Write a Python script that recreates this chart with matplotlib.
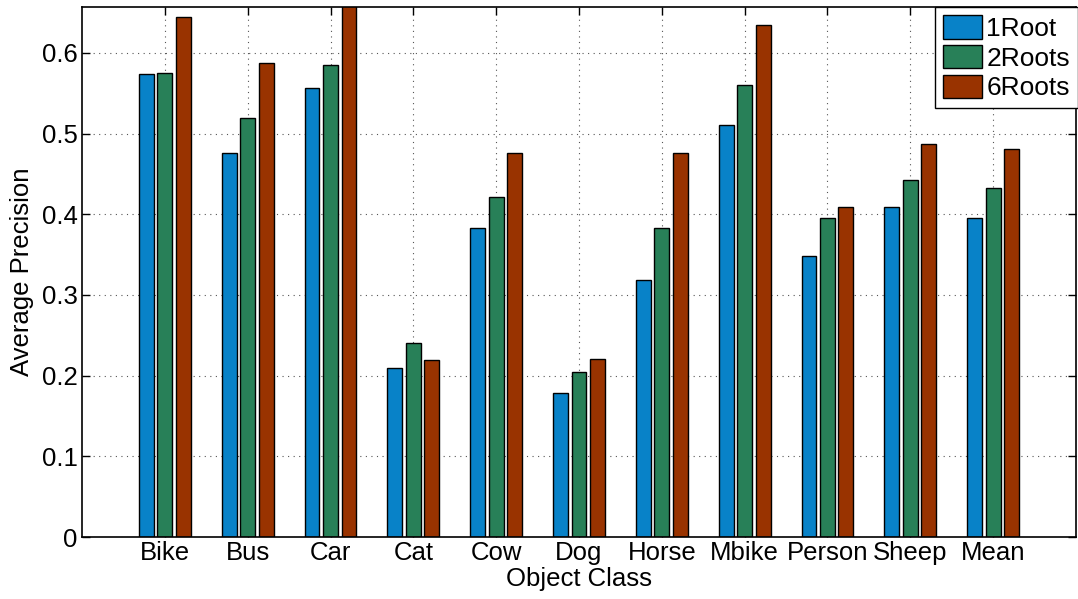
import numpy as np
import matplotlib
matplotlib.use("Agg")
import matplotlib.pyplot as plt

plt.rcParams['font.family'] = ['Liberation Sans', 'DejaVu Sans']

classes = ['Bike', 'Bus', 'Car', 'Cat', 'Cow', 'Dog', 'Horse', 'Mbike', 'Person', 'Sheep', 'Mean']
one_root = [0.574, 0.476, 0.557, 0.209, 0.383, 0.179, 0.319, 0.511, 0.348, 0.409, 0.396]
two_roots = [0.575, 0.519, 0.585, 0.241, 0.421, 0.204, 0.383, 0.560, 0.396, 0.443, 0.433]
six_roots = [0.644, 0.588, 0.690, 0.220, 0.476, 0.221, 0.476, 0.635, 0.409, 0.487, 0.481]
series_names = ['1Root', '2Roots', '6Roots']
colors = ['#0882c8', '#288058', '#993300']

fig = plt.figure(figsize=(10.78, 5.99), dpi=100)
ax = fig.add_axes([0.0761, 0.1035, 0.922, 0.8848])

x = np.arange(1, len(classes) + 1)
w = 0.18
offs = [-0.223, 0, 0.223]
for vals, off, c, name in zip([one_root, two_roots, six_roots], offs, colors, series_names):
    ax.bar(x + off, vals, width=w, color=c, edgecolor='black', linewidth=1.0,
           label=name, zorder=3)

ax.set_xlim(0, 12)
ax.set_ylim(0, 0.657)
ax.set_xticks(x)
ax.set_xticklabels(classes)
ax.set_yticks([0, 0.1, 0.2, 0.3, 0.4, 0.5, 0.6])
ax.set_yticklabels(['0', '0.1', '0.2', '0.3', '0.4', '0.5', '0.6'])
ax.tick_params(direction='in', top=True, right=True, labelsize=18.5, length=6, width=1)
ax.tick_params(axis='y', pad=3)
ax.tick_params(axis='x', pad=3)
ax.grid(True, linestyle=(0, (1, 4)), color='#555555', linewidth=0.8, zorder=0)
for s in ax.spines.values():
    s.set_linewidth(1.2)
    s.set_zorder(4)

ax.set_xlabel('Object Class', fontsize=18.5, labelpad=1)
ax.set_ylabel('Average Precision', fontsize=18.5, labelpad=6)

leg = ax.legend(loc='upper right', fontsize=19, fancybox=False, framealpha=1,
                edgecolor='black', borderaxespad=0, handlelength=1.5, handleheight=1.0,
                handletextpad=0.15, labelspacing=0.15, borderpad=0.3,
                bbox_to_anchor=(1.002, 1.0))
leg.get_frame().set_linewidth(1.0)

fig.savefig('out.png', dpi=100)
